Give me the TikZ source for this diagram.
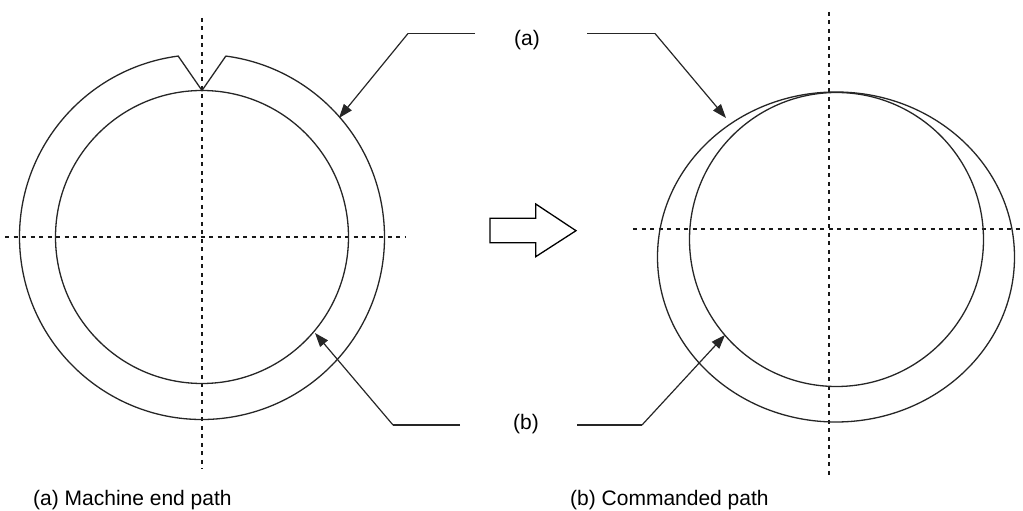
\documentclass[tikz,border=0pt]{standalone}
\usepackage{fontspec}
\setmainfont{Liberation Sans}
\usetikzlibrary{arrows.meta,calc}
\begin{document}
\begin{tikzpicture}[x=1pt,y=1pt,
  curve/.style={line width=1.3pt, draw=black!85},
  axis/.style={line width=1.3pt, draw=black!90, dash pattern=on 4pt off 4.5pt},
  leader/.style={line width=1.2pt, draw=black!85},
  pointer/.style={leader, -{Triangle[length=14pt,width=10pt]}},
  lbl/.style={font=\fontsize{21}{25}\selectfont, inner sep=0pt},
  caption/.style={font=\fontsize{21}{25}\selectfont, inner sep=0pt, anchor=base west}]
\useasboundingbox (0,0) rectangle (1023,511);
% ---- left figure
\coordinate (cl) at (202,274);
\coordinate (notch) at (202,420.5);
\draw[axis] (202,493) -- (202,42);
\draw[axis] (5,274) -- (405,274);
\draw[curve] (cl) circle[radius=146.5];
\draw[curve, line join=miter] ($(cl)+(82.5:182.5)$) -- (notch) -- ($(cl)+(97.5:182.5)$)
   arc[start angle=97.5, end angle=442.5, radius=182.5];
% ---- right figure
\coordinate (cr) at (836.5,271.5);
\coordinate (co) at (836,254);
\draw[axis] (829,499) -- (829,36);
\draw[axis] (633,282) -- (1023,282);
\draw[curve] (cr) circle[radius=147];
\draw[curve] (co) ellipse[x radius=178.5, y radius=165];
% ---- block arrow
\draw[line width=1.3pt, line join=miter] (490,292.7) -- (535.7,292.7) -- (535.7,307) -- (576,280.3)
   -- (535.7,254.3) -- (535.7,268.3) -- (490,268.3) -- cycle;
% ---- labels and leaders
\node[lbl] (la) at (527,471) {(a)};
\node[lbl] (lb) at (526,87) {(b)};
\coordinate (a1) at (408,477.5);
\coordinate (a2) at (475,477.5);
\coordinate (a3) at (587,477.5);
\coordinate (a4) at (655,477.5);
\coordinate (at1) at (339,393);
\coordinate (at2) at (726,393);
\coordinate (b1) at (393,86);
\coordinate (b2) at (460,86);
\coordinate (b3) at (577,86);
\coordinate (b4) at (642,86);
\coordinate (bt1) at (315,178);
\coordinate (bt2) at (725,176);
\draw[leader] (a2) -- (a1);
\draw[pointer] (a1) -- (at1);
\draw[leader] (a3) -- (a4);
\draw[pointer] (a4) -- (at2);
\draw[leader] (b2) -- (b1);
\draw[pointer] (b1) -- (bt1);
\draw[leader] (b3) -- (b4);
\draw[pointer] (b4) -- (bt2);
% ---- captions
\node[caption] (capa) at (33,5) {(a) Machine end path};
\node[caption] (capb) at (570,5) {(b) Commanded path};
\end{tikzpicture}
\end{document}
